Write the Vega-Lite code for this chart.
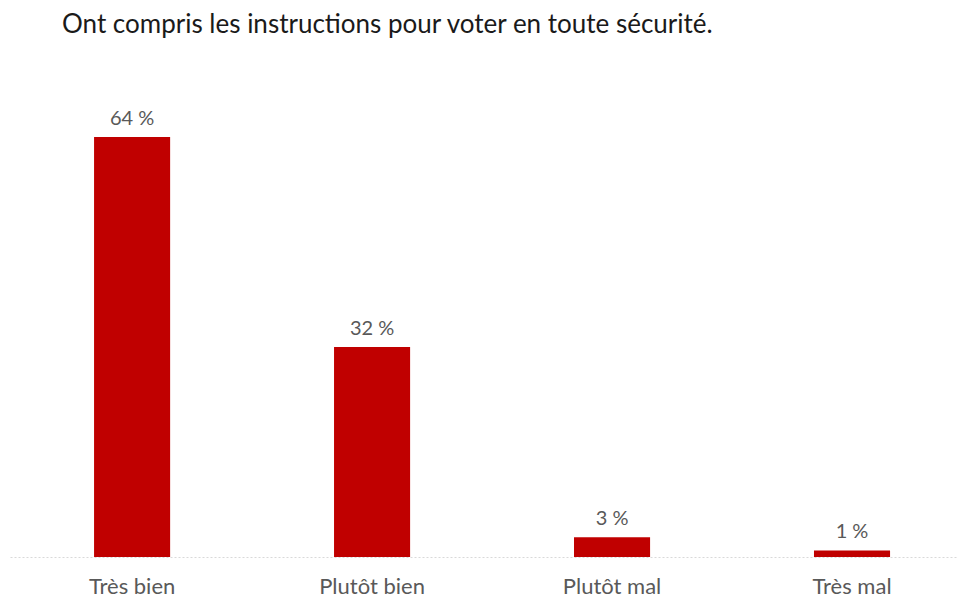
{
  "$schema": "https://vega.github.io/schema/vega-lite/v6.json",
  "width": 948,
  "height": 420,
  "autosize": {"type": "none"},
  "padding": {"left": 10, "top": 137, "right": 2, "bottom": 42},
  "background": "white",
  "title": {
    "text": "Ont compris les instructions pour voter en toute sécurité.",
    "anchor": "start",
    "frame": "group",
    "dx": 52,
    "offset": 71,
    "font": "Lato",
    "fontSize": 26,
    "fontWeight": "normal",
    "color": "#1a1a1a"
  },
  "data": {
    "values": [
      {"reponse": "Très bien", "pct": 64, "label": "64 %"},
      {"reponse": "Plutôt bien", "pct": 32, "label": "32 %"},
      {"reponse": "Plutôt mal", "pct": 3, "label": "3 %"},
      {"reponse": "Très mal", "pct": 1, "label": "1 %"}
    ]
  },
  "encoding": {
    "x": {
      "field": "reponse",
      "type": "nominal",
      "sort": null,
      "scale": {"paddingInner": 0.683, "paddingOuter": 0.3167, "align": 0.553},
      "axis": {
        "title": null,
        "labelAngle": 0,
        "labelFont": "Lato",
        "labelFontSize": 22,
        "labelColor": "#595959",
        "labelBaseline": "alphabetic",
        "labelPadding": 36,
        "ticks": false,
        "domainColor": "#d9d9d9",
        "domainDash": [2, 2],
        "domainWidth": 1
      }
    },
    "y": {
      "field": "pct",
      "type": "quantitative",
      "scale": {"domain": [0, 64], "nice": false},
      "axis": null
    }
  },
  "layer": [
    {"mark": {"type": "bar", "color": "#C00000"}},
    {
      "mark": {"type": "text", "baseline": "alphabetic", "dy": -12, "font": "Lato", "fontSize": 20, "color": "#595959"},
      "encoding": {"text": {"field": "label"}}
    }
  ],
  "config": {"view": {"stroke": null}}
}
